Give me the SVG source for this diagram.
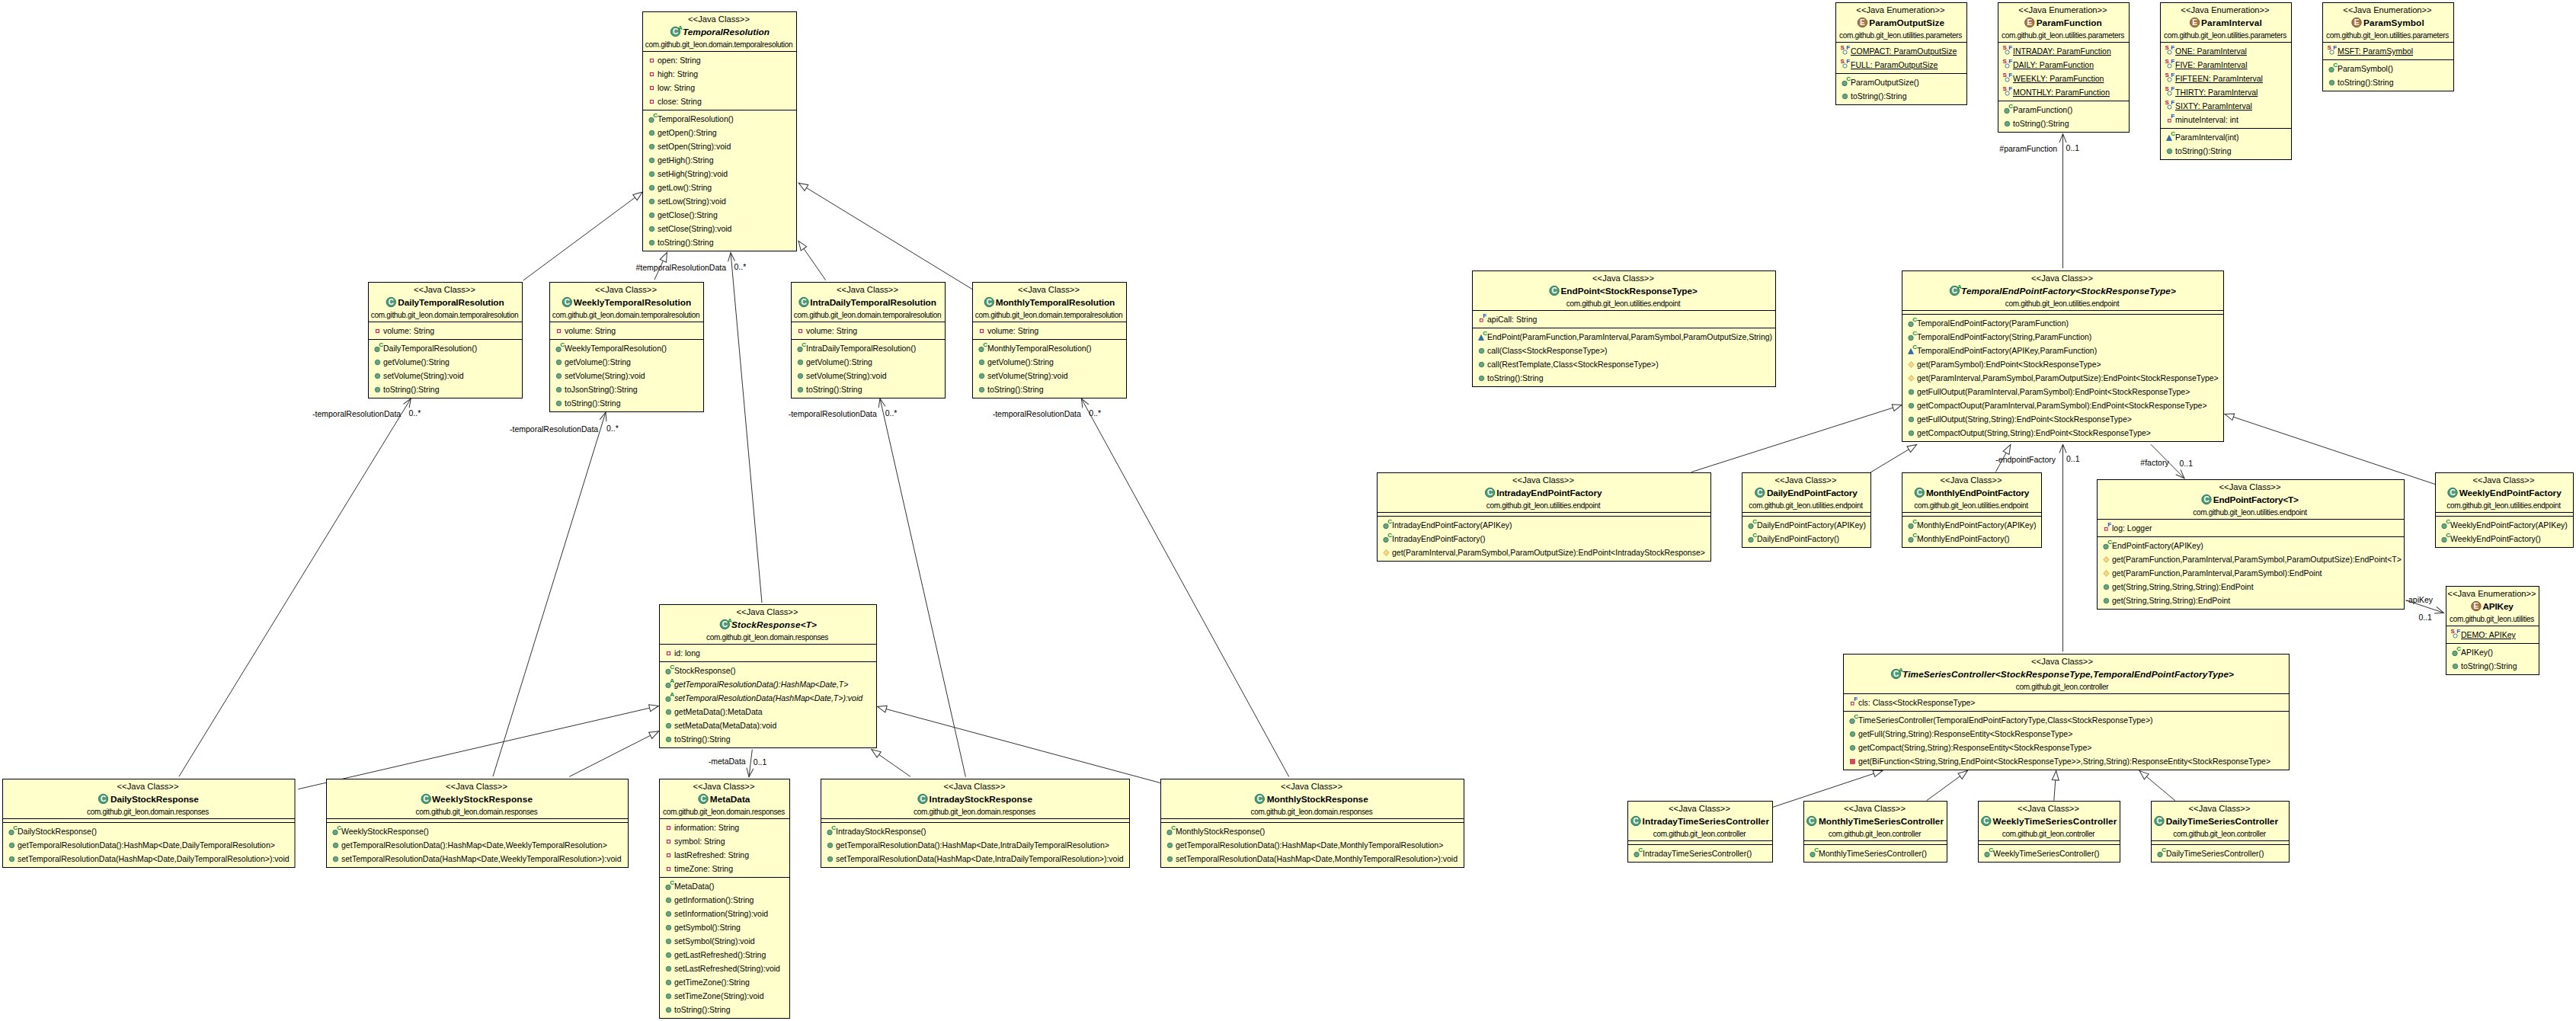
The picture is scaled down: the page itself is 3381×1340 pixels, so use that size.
<svg xmlns="http://www.w3.org/2000/svg" xmlns:xlink="http://www.w3.org/1999/xlink" width="3381" height="1340" viewBox="0 0 3381 1340">
<style>
text{font-family:"Liberation Sans",Arial,sans-serif;fill:#000}
.b{fill:#ffc;stroke:#000;stroke-width:1}
.l{fill:none;stroke:#000;stroke-width:1}
.st{font-size:11.2px;text-anchor:middle}
.p{font-size:10px;letter-spacing:-.31px;text-anchor:middle}
.n{font-size:11.8px;font-weight:bold}
.i{font-style:italic}
.t{font-size:10.5px}
.u{text-decoration:underline}
.lb{font-size:10.5px}
.c{fill:none;stroke:#333;stroke-width:1}
.g{marker-end:url(#tri)}
.a{marker-end:url(#opn)}
.ic{font-size:8px;font-weight:bold}
.cg{fill:#0a8a3c}
.cr{fill:#c01040}
.cb{fill:#2050c0}
.cw{font-size:10px;font-weight:bold;fill:#fff;text-anchor:middle}
</style>
<defs>
<marker id="tri" markerUnits="userSpaceOnUse" markerWidth="15" markerHeight="12" refX="13.5" refY="6" orient="auto"><path d="M13,6L1,1.5V10.5Z" fill="#fff" stroke="#333"/></marker>
<marker id="opn" markerUnits="userSpaceOnUse" markerWidth="15" markerHeight="12" refX="13" refY="6" orient="auto"><path d="M1.5,1.5L13,6L1.5,10.5" fill="none" stroke="#333"/></marker>
<g id="pub"><circle r="3.2" fill="#66a583" stroke="#3f8060"/></g>
<g id="ctor"><circle cx="-.5" cy="1" r="3.2" fill="#66a583" stroke="#3f8060"/><text class="ic cg" x="1.8" y="-2.5">C</text></g>
<g id="abs"><circle cx="-.5" cy="1" r="3.2" fill="#66a583" stroke="#3f8060"/><text class="ic cg" x="1.8" y="-2.5">A</text></g>
<g id="pkg"><path d="M-4,4L-.5,-3L3,4Z" fill="#2f6db5" stroke="#1f4f90" stroke-width=".6"/><text class="ic cg" x="1.8" y="-2.5">C</text></g>
<g id="prot"><path d="M0,-4L3.6,0L0,4L-3.6,0Z" fill="#f5d98a" stroke="#d8a040" stroke-width=".8"/></g>
<g id="prv"><rect x="-3" y="-3" width="6" height="6" fill="#d8475f" stroke="#b02040" stroke-width=".6"/></g>
<g id="pf"><rect x="-2" y="-2" width="4" height="4" fill="#fff" stroke="#c8284c" stroke-width="1.2"/></g>
<g id="ff"><rect x="-2" y="-1" width="3.6" height="3.6" fill="#fff" stroke="#c8284c" stroke-width="1.1"/><text class="ic cb" x="1.8" y="-2.5" font-weight="normal">F</text></g>
<g id="sf"><circle cy="1" r="2.6" fill="#fff" stroke="#3f8060"/><text class="ic cr" x="-6" y="-2.5">S</text><text class="ic cb" x="1.8" y="-3">F</text></g>
<g id="cls"><circle r="6.2" fill="#4f9a76" stroke="#2f7a58"/><text class="cw" y="3.6">C</text></g>
<g id="acl"><circle r="6.2" fill="#4f9a76" stroke="#2f7a58"/><text class="cw" y="3.6">C</text><text class="ic cg" x="3.6" y="-2.5" font-size="7">A</text></g>
<g id="enm"><circle r="6.2" fill="#a87648" stroke="#86582f"/><text class="cw" y="3.6">E</text></g>
</defs>
<rect width="3381" height="1340" fill="#fff"/>
<g id="connectors">
<path class="c g" d="M686.8,368L843.5,251.8"/>
<path class="c g" d="M859,367L875.6,331"/>
<path class="c g" d="M1083.7,367.7L1047.8,316"/>
<path class="c g" d="M1276.3,379.7L1047.8,240"/>
<path class="c a" d="M1000,791L959,331.5"/>
<text class="lb" x="834.5" y="354.5">#temporalResolutionData</text><text class="lb" x="963.5" y="353.5">0..*</text>
<path class="c a" d="M235,1019L539.3,523"/>
<text class="lb" x="410" y="546.5">-temporalResolutionData</text><text class="lb" x="536.5" y="546">0..*</text>
<path class="c a" d="M647,1019L795,541"/>
<text class="lb" x="669" y="566.5">-temporalResolutionData</text><text class="lb" x="796" y="566">0..*</text>
<path class="c a" d="M1267.4,1019.5L1155,523"/>
<text class="lb" x="1034.7" y="546.5">-temporalResolutionData</text><text class="lb" x="1161.7" y="546">0..*</text>
<path class="c a" d="M1691.8,1019.5L1419.3,523"/>
<text class="lb" x="1302.7" y="546.5">-temporalResolutionData</text><text class="lb" x="1429.3" y="546">0..*</text>
<path class="c g" d="M391.3,1035.7L864.8,926.4"/>
<path class="c g" d="M747.3,1019.3L864.8,959.6"/>
<path class="c g" d="M1195,1019.3L1143.4,983.3"/>
<path class="c g" d="M1523,1027.5L1151,927.3"/>
<path class="c a" d="M987.3,983.6L983,1019.6"/>
<text class="lb" x="929.7" y="1002.5">-metaData</text><text class="lb" x="988.8" y="1003.5">0..1</text>
<path class="c a" d="M2707.5,352L2707.5,175.5"/>
<text class="lb" x="2624.3" y="199">#paramFunction</text><text class="lb" x="2711.6" y="198">0..1</text>
<path class="c g" d="M2220,619.5L2496.5,531.3"/>
<path class="c g" d="M2455,620L2516,583.3"/>
<path class="c g" d="M2619.3,619.5L2639,583.3"/>
<path class="c g" d="M3196.5,635.7L2919.5,543.3"/>
<path class="c a" d="M2707.5,855L2707.5,583"/>
<text class="lb" x="2619.3" y="606.7">-endpointFactory</text><text class="lb" x="2712" y="606">0..1</text>
<path class="c a" d="M2823,583.3L2867,627.7"/>
<text class="lb" x="2809.3" y="611">#factory</text><text class="lb" x="2860.5" y="611.7">0..1</text>
<path class="c a" d="M3157.5,787.7L3207.4,804.3"/>
<text class="lb" x="3157.5" y="790.7">-apiKey</text><text class="lb" x="3174.4" y="813.7">0..1</text>
<path class="c g" d="M2327,1059.3L2471.3,1011.3"/>
<path class="c g" d="M2528.7,1050.7L2582.7,1011.3"/>
<path class="c g" d="M2695.8,1050.7L2698.7,1011.3"/>
<path class="c g" d="M2854.8,1050.7L2807.7,1011.3"/>
</g>

<g id="TemporalResolution" transform="translate(843.5,15.5)"><rect class="b" width="202" height="314"/><path class="l" d="M0,52H202M0,129H202"/><text class="st" x="100" y="13.5">&lt;&lt;Java Class&gt;&gt;</text><use href="#acl" x="43" y="26"/><text class="n i" x="52.5" y="30" textLength="114">TemporalResolution</text><text class="p" x="100" y="46">com.github.git_leon.domain.temporalresolution</text>
<use href="#pf" x="12" y="64"/><text class="t" x="19.5" y="67.5">open: String</text><use href="#pf" x="12" y="82"/><text class="t" x="19.5" y="85.5">high: String</text><use href="#pf" x="12" y="100"/><text class="t" x="19.5" y="103.5">low: String</text><use href="#pf" x="12" y="118"/><text class="t" x="19.5" y="121.5">close: String</text>
<use href="#ctor" x="12" y="141"/><text class="t" x="19.5" y="144.5">TemporalResolution()</text><use href="#pub" x="12" y="159"/><text class="t" x="19.5" y="162.5">getOpen():String</text><use href="#pub" x="12" y="177"/><text class="t" x="19.5" y="180.5">setOpen(String):void</text><use href="#pub" x="12" y="195"/><text class="t" x="19.5" y="198.5">getHigh():String</text><use href="#pub" x="12" y="213"/><text class="t" x="19.5" y="216.5">setHigh(String):void</text><use href="#pub" x="12" y="231"/><text class="t" x="19.5" y="234.5">getLow():String</text><use href="#pub" x="12" y="249"/><text class="t" x="19.5" y="252.5">setLow(String):void</text><use href="#pub" x="12" y="267"/><text class="t" x="19.5" y="270.5">getClose():String</text><use href="#pub" x="12" y="285"/><text class="t" x="19.5" y="288.5">setClose(String):void</text><use href="#pub" x="12" y="303"/><text class="t" x="19.5" y="306.5">toString():String</text></g>

<g id="DailyTemporalResolution" transform="translate(483.5,370.5)"><rect class="b" width="202" height="152"/><path class="l" d="M0,52H202M0,75H202"/><text class="st" x="100" y="13.5">&lt;&lt;Java Class&gt;&gt;</text><use href="#cls" x="29.8" y="26"/><text class="n" x="38.8" y="30" textLength="139.4">DailyTemporalResolution</text><text class="p" x="100" y="46">com.github.git_leon.domain.temporalresolution</text>
<use href="#pf" x="12" y="64"/><text class="t" x="19.5" y="67.5">volume: String</text>
<use href="#ctor" x="12" y="87"/><text class="t" x="19.5" y="90.5">DailyTemporalResolution()</text><use href="#pub" x="12" y="105"/><text class="t" x="19.5" y="108.5">getVolume():String</text><use href="#pub" x="12" y="123"/><text class="t" x="19.5" y="126.5">setVolume(String):void</text><use href="#pub" x="12" y="141"/><text class="t" x="19.5" y="144.5">toString():String</text></g>

<g id="WeeklyTemporalResolution" transform="translate(721.5,370.5)"><rect class="b" width="202" height="170"/><path class="l" d="M0,52H202M0,75H202"/><text class="st" x="100" y="13.5">&lt;&lt;Java Class&gt;&gt;</text><use href="#cls" x="22.8" y="26"/><text class="n" x="31.2" y="30" textLength="154.6">WeeklyTemporalResolution</text><text class="p" x="100" y="46">com.github.git_leon.domain.temporalresolution</text>
<use href="#pf" x="12" y="64"/><text class="t" x="19.5" y="67.5">volume: String</text>
<use href="#ctor" x="12" y="87"/><text class="t" x="19.5" y="90.5">WeeklyTemporalResolution()</text><use href="#pub" x="12" y="105"/><text class="t" x="19.5" y="108.5">getVolume():String</text><use href="#pub" x="12" y="123"/><text class="t" x="19.5" y="126.5">setVolume(String):void</text><use href="#pub" x="12" y="141"/><text class="t" x="19.5" y="144.5">toJsonString():String</text><use href="#pub" x="12" y="159"/><text class="t" x="19.5" y="162.5">toString():String</text></g>

<g id="IntraDailyTemporalResolution" transform="translate(1038.5,370.5)"><rect class="b" width="202" height="152"/><path class="l" d="M0,52H202M0,75H202"/><text class="st" x="100" y="13.5">&lt;&lt;Java Class&gt;&gt;</text><use href="#cls" x="16.5" y="26"/><text class="n" x="24.8" y="30" textLength="165.7">IntraDailyTemporalResolution</text><text class="p" x="100" y="46">com.github.git_leon.domain.temporalresolution</text>
<use href="#pf" x="12" y="64"/><text class="t" x="19.5" y="67.5">volume: String</text>
<use href="#ctor" x="12" y="87"/><text class="t" x="19.5" y="90.5">IntraDailyTemporalResolution()</text><use href="#pub" x="12" y="105"/><text class="t" x="19.5" y="108.5">getVolume():String</text><use href="#pub" x="12" y="123"/><text class="t" x="19.5" y="126.5">setVolume(String):void</text><use href="#pub" x="12" y="141"/><text class="t" x="19.5" y="144.5">toString():String</text></g>

<g id="MonthlyTemporalResolution" transform="translate(1276.5,370.5)"><rect class="b" width="202" height="152"/><path class="l" d="M0,52H202M0,75H202"/><text class="st" x="100" y="13.5">&lt;&lt;Java Class&gt;&gt;</text><use href="#cls" x="21.8" y="26"/><text class="n" x="30.2" y="30" textLength="156.6">MonthlyTemporalResolution</text><text class="p" x="100" y="46">com.github.git_leon.domain.temporalresolution</text>
<use href="#pf" x="12" y="64"/><text class="t" x="19.5" y="67.5">volume: String</text>
<use href="#ctor" x="12" y="87"/><text class="t" x="19.5" y="90.5">MonthlyTemporalResolution()</text><use href="#pub" x="12" y="105"/><text class="t" x="19.5" y="108.5">getVolume():String</text><use href="#pub" x="12" y="123"/><text class="t" x="19.5" y="126.5">setVolume(String):void</text><use href="#pub" x="12" y="141"/><text class="t" x="19.5" y="144.5">toString():String</text></g>

<g id="StockResponse" transform="translate(865.5,793.5)"><rect class="b" width="285" height="188"/><path class="l" d="M0,52H285M0,75H285"/><text class="st" x="141.5" y="13.5">&lt;&lt;Java Class&gt;&gt;</text><use href="#acl" x="85.8" y="26"/><text class="n i" x="94.5" y="30" textLength="112">StockResponse&lt;T&gt;</text><text class="p" x="141.5" y="46">com.github.git_leon.domain.responses</text>
<use href="#pf" x="12" y="64"/><text class="t" x="19.5" y="67.5">id: long</text>
<use href="#ctor" x="12" y="87"/><text class="t" x="19.5" y="90.5">StockResponse()</text><use href="#abs" x="12" y="105"/><text class="t i" x="19.5" y="108.5">getTemporalResolutionData():HashMap&lt;Date,T&gt;</text><use href="#abs" x="12" y="123"/><text class="t i" x="19.5" y="126.5">setTemporalResolutionData(HashMap&lt;Date,T&gt;):void</text><use href="#pub" x="12" y="141"/><text class="t" x="19.5" y="144.5">getMetaData():MetaData</text><use href="#pub" x="12" y="159"/><text class="t" x="19.5" y="162.5">setMetaData(MetaData):void</text><use href="#pub" x="12" y="177"/><text class="t" x="19.5" y="180.5">toString():String</text></g>

<g id="DailyStockResponse" transform="translate(3.5,1022.5)"><rect class="b" width="383.5" height="116"/><path class="l" d="M0,52H383.5M0,57H383.5"/><text class="st" x="190.5" y="13.5">&lt;&lt;Java Class&gt;&gt;</text><use href="#cls" x="132" y="26"/><text class="n" x="141.4" y="30" textLength="116">DailyStockResponse</text><text class="p" x="190.5" y="46">com.github.git_leon.domain.responses</text>
<use href="#ctor" x="12" y="69"/><text class="t" x="19.5" y="72.5">DailyStockResponse()</text><use href="#pub" x="12" y="87"/><text class="t" x="19.5" y="90.5">getTemporalResolutionData():HashMap&lt;Date,DailyTemporalResolution&gt;</text><use href="#pub" x="12" y="105"/><text class="t" x="19.5" y="108.5">setTemporalResolutionData(HashMap&lt;Date,DailyTemporalResolution&gt;):void</text></g>

<g id="WeeklyStockResponse" transform="translate(428.5,1022.5)"><rect class="b" width="396" height="116"/><path class="l" d="M0,52H396M0,57H396"/><text class="st" x="197" y="13.5">&lt;&lt;Java Class&gt;&gt;</text><use href="#cls" x="130.7" y="26"/><text class="n" x="138.5" y="30" textLength="132">WeeklyStockResponse</text><text class="p" x="197" y="46">com.github.git_leon.domain.responses</text>
<use href="#ctor" x="12" y="69"/><text class="t" x="19.5" y="72.5">WeeklyStockResponse()</text><use href="#pub" x="12" y="87"/><text class="t" x="19.5" y="90.5">getTemporalResolutionData():HashMap&lt;Date,WeeklyTemporalResolution&gt;</text><use href="#pub" x="12" y="105"/><text class="t" x="19.5" y="108.5">setTemporalResolutionData(HashMap&lt;Date,WeeklyTemporalResolution&gt;):void</text></g>

<g id="MetaData" transform="translate(865.5,1022.5)"><rect class="b" width="171" height="314"/><path class="l" d="M0,52H171M0,129H171"/><text class="st" x="84.5" y="13.5">&lt;&lt;Java Class&gt;&gt;</text><use href="#cls" x="57.5" y="26"/><text class="n" x="66.3" y="30" textLength="52.6">MetaData</text><text class="p" x="84.5" y="46">com.github.git_leon.domain.responses</text>
<use href="#pf" x="12" y="64"/><text class="t" x="19.5" y="67.5">information: String</text><use href="#pf" x="12" y="82"/><text class="t" x="19.5" y="85.5">symbol: String</text><use href="#pf" x="12" y="100"/><text class="t" x="19.5" y="103.5">lastRefreshed: String</text><use href="#pf" x="12" y="118"/><text class="t" x="19.5" y="121.5">timeZone: String</text>
<use href="#ctor" x="12" y="141"/><text class="t" x="19.5" y="144.5">MetaData()</text><use href="#pub" x="12" y="159"/><text class="t" x="19.5" y="162.5">getInformation():String</text><use href="#pub" x="12" y="177"/><text class="t" x="19.5" y="180.5">setInformation(String):void</text><use href="#pub" x="12" y="195"/><text class="t" x="19.5" y="198.5">getSymbol():String</text><use href="#pub" x="12" y="213"/><text class="t" x="19.5" y="216.5">setSymbol(String):void</text><use href="#pub" x="12" y="231"/><text class="t" x="19.5" y="234.5">getLastRefreshed():String</text><use href="#pub" x="12" y="249"/><text class="t" x="19.5" y="252.5">setLastRefreshed(String):void</text><use href="#pub" x="12" y="267"/><text class="t" x="19.5" y="270.5">getTimeZone():String</text><use href="#pub" x="12" y="285"/><text class="t" x="19.5" y="288.5">setTimeZone(String):void</text><use href="#pub" x="12" y="303"/><text class="t" x="19.5" y="306.5">toString():String</text></g>

<g id="IntradayStockResponse" transform="translate(1077.5,1022.5)"><rect class="b" width="405" height="116"/><path class="l" d="M0,52H405M0,57H405"/><text class="st" x="201.5" y="13.5">&lt;&lt;Java Class&gt;&gt;</text><use href="#cls" x="133.5" y="26"/><text class="n" x="142.1" y="30" textLength="135.4">IntradayStockResponse</text><text class="p" x="201.5" y="46">com.github.git_leon.domain.responses</text>
<use href="#ctor" x="12" y="69"/><text class="t" x="19.5" y="72.5">IntradayStockResponse()</text><use href="#pub" x="12" y="87"/><text class="t" x="19.5" y="90.5">getTemporalResolutionData():HashMap&lt;Date,IntraDailyTemporalResolution&gt;</text><use href="#pub" x="12" y="105"/><text class="t" x="19.5" y="108.5">setTemporalResolutionData(HashMap&lt;Date,IntraDailyTemporalResolution&gt;):void</text></g>

<g id="MonthlyStockResponse" transform="translate(1523.5,1022.5)"><rect class="b" width="398" height="116"/><path class="l" d="M0,52H398M0,57H398"/><text class="st" x="198" y="13.5">&lt;&lt;Java Class&gt;&gt;</text><use href="#cls" x="129.8" y="26"/><text class="n" x="139.2" y="30" textLength="133">MonthlyStockResponse</text><text class="p" x="198" y="46">com.github.git_leon.domain.responses</text>
<use href="#ctor" x="12" y="69"/><text class="t" x="19.5" y="72.5">MonthlyStockResponse()</text><use href="#pub" x="12" y="87"/><text class="t" x="19.5" y="90.5">getTemporalResolutionData():HashMap&lt;Date,MonthlyTemporalResolution&gt;</text><use href="#pub" x="12" y="105"/><text class="t" x="19.5" y="108.5">setTemporalResolutionData(HashMap&lt;Date,MonthlyTemporalResolution&gt;):void</text></g>

<g id="ParamOutputSize" transform="translate(2409.5,3.5)"><rect class="b" width="172" height="134"/><path class="l" d="M0,52H172M0,93H172"/><text class="st" x="85" y="13.5">&lt;&lt;Java Enumeration&gt;&gt;</text><use href="#enm" x="34.9" y="26"/><text class="n" x="43.8" y="30" textLength="98.7">ParamOutputSize</text><text class="p" x="85" y="46">com.github.git_leon.utilities.parameters</text>
<use href="#sf" x="12" y="64"/><text class="t u" x="19.5" y="67.5">COMPACT: ParamOutputSize</text><use href="#sf" x="12" y="82"/><text class="t u" x="19.5" y="85.5">FULL: ParamOutputSize</text>
<use href="#ctor" x="12" y="105"/><text class="t" x="19.5" y="108.5">ParamOutputSize()</text><use href="#pub" x="12" y="123"/><text class="t" x="19.5" y="126.5">toString():String</text></g>

<g id="ParamFunction" transform="translate(2622.5,3.5)"><rect class="b" width="172" height="170"/><path class="l" d="M0,52H172M0,129H172"/><text class="st" x="85" y="13.5">&lt;&lt;Java Enumeration&gt;&gt;</text><use href="#enm" x="41.3" y="26"/><text class="n" x="50.2" y="30" textLength="86">ParamFunction</text><text class="p" x="85" y="46">com.github.git_leon.utilities.parameters</text>
<use href="#sf" x="12" y="64"/><text class="t u" x="19.5" y="67.5">INTRADAY: ParamFunction</text><use href="#sf" x="12" y="82"/><text class="t u" x="19.5" y="85.5">DAILY: ParamFunction</text><use href="#sf" x="12" y="100"/><text class="t u" x="19.5" y="103.5">WEEKLY: ParamFunction</text><use href="#sf" x="12" y="118"/><text class="t u" x="19.5" y="121.5">MONTHLY: ParamFunction</text>
<use href="#ctor" x="12" y="141"/><text class="t" x="19.5" y="144.5">ParamFunction()</text><use href="#pub" x="12" y="159"/><text class="t" x="19.5" y="162.5">toString():String</text></g>

<g id="ParamInterval" transform="translate(2835.5,3.5)"><rect class="b" width="172" height="206"/><path class="l" d="M0,52H172M0,165H172"/><text class="st" x="85" y="13.5">&lt;&lt;Java Enumeration&gt;&gt;</text><use href="#enm" x="45.1" y="26"/><text class="n" x="53.5" y="30" textLength="79.7">ParamInterval</text><text class="p" x="85" y="46">com.github.git_leon.utilities.parameters</text>
<use href="#sf" x="12" y="64"/><text class="t u" x="19.5" y="67.5">ONE: ParamInterval</text><use href="#sf" x="12" y="82"/><text class="t u" x="19.5" y="85.5">FIVE: ParamInterval</text><use href="#sf" x="12" y="100"/><text class="t u" x="19.5" y="103.5">FIFTEEN: ParamInterval</text><use href="#sf" x="12" y="118"/><text class="t u" x="19.5" y="121.5">THIRTY: ParamInterval</text><use href="#sf" x="12" y="136"/><text class="t u" x="19.5" y="139.5">SIXTY: ParamInterval</text><use href="#ff" x="12" y="154"/><text class="t" x="19.5" y="157.5">minuteInterval: int</text>
<use href="#pkg" x="12" y="177"/><text class="t" x="19.5" y="180.5">ParamInterval(int)</text><use href="#pub" x="12" y="195"/><text class="t" x="19.5" y="198.5">toString():String</text></g>

<g id="ParamSymbol" transform="translate(3048.5,3.5)"><rect class="b" width="172" height="116"/><path class="l" d="M0,52H172M0,75H172"/><text class="st" x="85" y="13.5">&lt;&lt;Java Enumeration&gt;&gt;</text><use href="#enm" x="44.5" y="26"/><text class="n" x="53.5" y="30" textLength="79.7">ParamSymbol</text><text class="p" x="85" y="46">com.github.git_leon.utilities.parameters</text>
<use href="#sf" x="12" y="64"/><text class="t u" x="19.5" y="67.5">MSFT: ParamSymbol</text>
<use href="#ctor" x="12" y="87"/><text class="t" x="19.5" y="90.5">ParamSymbol()</text><use href="#pub" x="12" y="105"/><text class="t" x="19.5" y="108.5">toString():String</text></g>

<g id="EndPoint" transform="translate(1932.5,355.5)"><rect class="b" width="398" height="152"/><path class="l" d="M0,52H398M0,75H398"/><text class="st" x="198" y="13.5">&lt;&lt;Java Class&gt;&gt;</text><use href="#cls" x="107.5" y="26"/><text class="n" x="116" y="30" textLength="179.3">EndPoint&lt;StockResponseType&gt;</text><text class="p" x="198" y="46">com.github.git_leon.utilities.endpoint</text>
<use href="#ff" x="12" y="64"/><text class="t" x="19.5" y="67.5">apiCall: String</text>
<use href="#pkg" x="12" y="87"/><text class="t" x="19.5" y="90.5">EndPoint(ParamFunction,ParamInterval,ParamSymbol,ParamOutputSize,String)</text><use href="#pub" x="12" y="105"/><text class="t" x="19.5" y="108.5">call(Class&lt;StockResponseType&gt;)</text><use href="#pub" x="12" y="123"/><text class="t" x="19.5" y="126.5">call(RestTemplate,Class&lt;StockResponseType&gt;)</text><use href="#pub" x="12" y="141"/><text class="t" x="19.5" y="144.5">toString():String</text></g>

<g id="TemporalEndPointFactory" transform="translate(2496.5,355.5)"><rect class="b" width="422" height="224"/><path class="l" d="M0,52H422M0,57H422"/><text class="st" x="210" y="13.5">&lt;&lt;Java Class&gt;&gt;</text><use href="#acl" x="68.9" y="26"/><text class="n i" x="77.5" y="30" textLength="281.8">TemporalEndPointFactory&lt;StockResponseType&gt;</text><text class="p" x="210" y="46">com.github.git_leon.utilities.endpoint</text>
<use href="#ctor" x="12" y="69"/><text class="t" x="19.5" y="72.5">TemporalEndPointFactory(ParamFunction)</text><use href="#ctor" x="12" y="87"/><text class="t" x="19.5" y="90.5">TemporalEndPointFactory(String,ParamFunction)</text><use href="#pkg" x="12" y="105"/><text class="t" x="19.5" y="108.5">TemporalEndPointFactory(APIKey,ParamFunction)</text><use href="#prot" x="12" y="123"/><text class="t" x="19.5" y="126.5">get(ParamSymbol):EndPoint&lt;StockResponseType&gt;</text><use href="#prot" x="12" y="141"/><text class="t" x="19.5" y="144.5">get(ParamInterval,ParamSymbol,ParamOutputSize):EndPoint&lt;StockResponseType&gt;</text><use href="#pub" x="12" y="159"/><text class="t" x="19.5" y="162.5">getFullOutput(ParamInterval,ParamSymbol):EndPoint&lt;StockResponseType&gt;</text><use href="#pub" x="12" y="177"/><text class="t" x="19.5" y="180.5">getCompactOuput(ParamInterval,ParamSymbol):EndPoint&lt;StockResponseType&gt;</text><use href="#pub" x="12" y="195"/><text class="t" x="19.5" y="198.5">getFullOutput(String,String):EndPoint&lt;StockResponseType&gt;</text><use href="#pub" x="12" y="213"/><text class="t" x="19.5" y="216.5">getCompactOutput(String,String):EndPoint&lt;StockResponseType&gt;</text></g>

<g id="IntradayEndPointFactory" transform="translate(1807.5,620.5)"><rect class="b" width="438" height="116"/><path class="l" d="M0,52H438M0,57H438"/><text class="st" x="218" y="13.5">&lt;&lt;Java Class&gt;&gt;</text><use href="#cls" x="148.1" y="26"/><text class="n" x="156.7" y="30" textLength="138.3">IntradayEndPointFactory</text><text class="p" x="218" y="46">com.github.git_leon.utilities.endpoint</text>
<use href="#ctor" x="12" y="69"/><text class="t" x="19.5" y="72.5">IntradayEndPointFactory(APIKey)</text><use href="#ctor" x="12" y="87"/><text class="t" x="19.5" y="90.5">IntradayEndPointFactory()</text><use href="#prot" x="12" y="105"/><text class="t" x="19.5" y="108.5">get(ParamInterval,ParamSymbol,ParamOutputSize):EndPoint&lt;IntradayStockResponse&gt;</text></g>

<g id="DailyEndPointFactory" transform="translate(2286.5,620.5)"><rect class="b" width="169" height="98"/><path class="l" d="M0,52H169M0,57H169"/><text class="st" x="83.5" y="13.5">&lt;&lt;Java Class&gt;&gt;</text><use href="#cls" x="23.3" y="26"/><text class="n" x="32.5" y="30" textLength="118.8">DailyEndPointFactory</text><text class="p" x="83.5" y="46">com.github.git_leon.utilities.endpoint</text>
<use href="#ctor" x="12" y="69"/><text class="t" x="19.5" y="72.5">DailyEndPointFactory(APIKey)</text><use href="#ctor" x="12" y="87"/><text class="t" x="19.5" y="90.5">DailyEndPointFactory()</text></g>

<g id="MonthlyEndPointFactory" transform="translate(2496.5,620.5)"><rect class="b" width="183" height="98"/><path class="l" d="M0,52H183M0,57H183"/><text class="st" x="90.5" y="13.5">&lt;&lt;Java Class&gt;&gt;</text><use href="#cls" x="22.8" y="26"/><text class="n" x="31.4" y="30" textLength="135.5">MonthlyEndPointFactory</text><text class="p" x="90.5" y="46">com.github.git_leon.utilities.endpoint</text>
<use href="#ctor" x="12" y="69"/><text class="t" x="19.5" y="72.5">MonthlyEndPointFactory(APIKey)</text><use href="#ctor" x="12" y="87"/><text class="t" x="19.5" y="90.5">MonthlyEndPointFactory()</text></g>

<g id="EndPointFactory" transform="translate(2752.5,629.5)"><rect class="b" width="403" height="170"/><path class="l" d="M0,52H403M0,75H403"/><text class="st" x="200.5" y="13.5">&lt;&lt;Java Class&gt;&gt;</text><use href="#cls" x="143.5" y="26"/><text class="n" x="152.2" y="30" textLength="112.3">EndPointFactory&lt;T&gt;</text><text class="p" x="200.5" y="46">com.github.git_leon.utilities.endpoint</text>
<use href="#ff" x="12" y="64"/><text class="t" x="19.5" y="67.5">log: Logger</text>
<use href="#ctor" x="12" y="87"/><text class="t" x="19.5" y="90.5">EndPointFactory(APIKey)</text><use href="#prot" x="12" y="105"/><text class="t" x="19.5" y="108.5">get(ParamFunction,ParamInterval,ParamSymbol,ParamOutputSize):EndPoint&lt;T&gt;</text><use href="#prot" x="12" y="123"/><text class="t" x="19.5" y="126.5">get(ParamFunction,ParamInterval,ParamSymbol):EndPoint</text><use href="#pub" x="12" y="141"/><text class="t" x="19.5" y="144.5">get(String,String,String,String):EndPoint</text><use href="#pub" x="12" y="159"/><text class="t" x="19.5" y="162.5">get(String,String,String):EndPoint</text></g>

<g id="WeeklyEndPointFactory" transform="translate(3196.5,620.5)"><rect class="b" width="181" height="98"/><path class="l" d="M0,52H181M0,57H181"/><text class="st" x="89.5" y="13.5">&lt;&lt;Java Class&gt;&gt;</text><use href="#cls" x="22.5" y="26"/><text class="n" x="31.2" y="30" textLength="134">WeeklyEndPointFactory</text><text class="p" x="89.5" y="46">com.github.git_leon.utilities.endpoint</text>
<use href="#ctor" x="12" y="69"/><text class="t" x="19.5" y="72.5">WeeklyEndPointFactory(APIKey)</text><use href="#ctor" x="12" y="87"/><text class="t" x="19.5" y="90.5">WeeklyEndPointFactory()</text></g>

<g id="APIKey" transform="translate(3210.5,769.5)"><rect class="b" width="122" height="116"/><path class="l" d="M0,52H122M0,75H122"/><text class="st" x="60" y="13.5">&lt;&lt;Java Enumeration&gt;&gt;</text><use href="#enm" x="39.4" y="26"/><text class="n" x="48" y="30" textLength="40.4">APIKey</text><text class="p" x="60" y="46">com.github.git_leon.utilities</text>
<use href="#sf" x="12" y="64"/><text class="t u" x="19.5" y="67.5">DEMO: APIKey</text>
<use href="#ctor" x="12" y="87"/><text class="t" x="19.5" y="90.5">APIKey()</text><use href="#pub" x="12" y="105"/><text class="t" x="19.5" y="108.5">toString():String</text></g>

<g id="TimeSeriesController" transform="translate(2419.5,858.5)"><rect class="b" width="585" height="152"/><path class="l" d="M0,52H585M0,75H585"/><text class="st" x="287" y="13.5">&lt;&lt;Java Class&gt;&gt;</text><use href="#acl" x="69" y="26"/><text class="n i" x="77.5" y="30" textLength="435">TimeSeriesController&lt;StockResponseType,TemporalEndPointFactoryType&gt;</text><text class="p" x="287" y="46">com.github.git_leon.controller</text>
<use href="#ff" x="12" y="64"/><text class="t" x="19.5" y="67.5">cls: Class&lt;StockResponseType&gt;</text>
<use href="#ctor" x="12" y="87"/><text class="t" x="19.5" y="90.5">TimeSeriesController(TemporalEndPointFactoryType,Class&lt;StockResponseType&gt;)</text><use href="#pub" x="12" y="105"/><text class="t" x="19.5" y="108.5">getFull(String,String):ResponseEntity&lt;StockResponseType&gt;</text><use href="#pub" x="12" y="123"/><text class="t" x="19.5" y="126.5">getCompact(String,String):ResponseEntity&lt;StockResponseType&gt;</text><use href="#prv" x="12" y="141"/><text class="t" x="19.5" y="144.5">get(BiFunction&lt;String,String,EndPoint&lt;StockResponseType&gt;&gt;,String,String):ResponseEntity&lt;StockResponseType&gt;</text></g>

<g id="IntradayTimeSeriesController" transform="translate(2136.5,1051.5)"><rect class="b" width="190" height="80"/><path class="l" d="M0,52H190M0,57H190"/><text class="st" x="94" y="13.5">&lt;&lt;Java Class&gt;&gt;</text><use href="#cls" x="10.5" y="26"/><text class="n" x="19.1" y="30" textLength="166.4">IntradayTimeSeriesController</text><text class="p" x="94" y="46">com.github.git_leon.controller</text>
<use href="#ctor" x="12" y="69"/><text class="t" x="19.5" y="72.5">IntradayTimeSeriesController()</text></g>

<g id="MonthlyTimeSeriesController" transform="translate(2367.5,1051.5)"><rect class="b" width="188" height="80"/><path class="l" d="M0,52H188M0,57H188"/><text class="st" x="93" y="13.5">&lt;&lt;Java Class&gt;&gt;</text><use href="#cls" x="10.2" y="26"/><text class="n" x="19.5" y="30" textLength="164">MonthlyTimeSeriesController</text><text class="p" x="93" y="46">com.github.git_leon.controller</text>
<use href="#ctor" x="12" y="69"/><text class="t" x="19.5" y="72.5">MonthlyTimeSeriesController()</text></g>

<g id="WeeklyTimeSeriesController" transform="translate(2596.5,1051.5)"><rect class="b" width="186" height="80"/><path class="l" d="M0,52H186M0,57H186"/><text class="st" x="92" y="13.5">&lt;&lt;Java Class&gt;&gt;</text><use href="#cls" x="10.3" y="26"/><text class="n" x="18.9" y="30" textLength="163">WeeklyTimeSeriesController</text><text class="p" x="92" y="46">com.github.git_leon.controller</text>
<use href="#ctor" x="12" y="69"/><text class="t" x="19.5" y="72.5">WeeklyTimeSeriesController()</text></g>

<g id="DailyTimeSeriesController" transform="translate(2823.5,1051.5)"><rect class="b" width="181" height="80"/><path class="l" d="M0,52H181M0,57H181"/><text class="st" x="89.5" y="13.5">&lt;&lt;Java Class&gt;&gt;</text><use href="#cls" x="10.5" y="26"/><text class="n" x="19.2" y="30" textLength="147.3">DailyTimeSeriesController</text><text class="p" x="89.5" y="46">com.github.git_leon.controller</text>
<use href="#ctor" x="12" y="69"/><text class="t" x="19.5" y="72.5">DailyTimeSeriesController()</text></g>
</svg>
